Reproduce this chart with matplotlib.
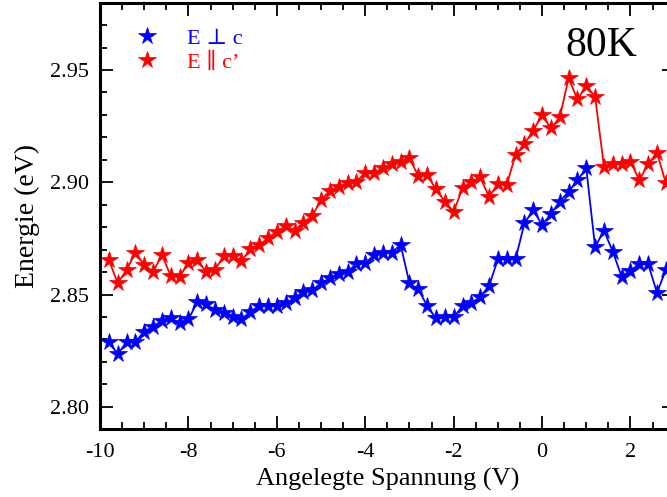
import matplotlib
matplotlib.use('Agg')
import matplotlib.pyplot as plt
import numpy as np
from matplotlib.ticker import MultipleLocator

plt.rcParams['font.family'] = ['Liberation Serif', 'DejaVu Serif']
plt.rcParams['mathtext.fontset'] = 'stix'

# applied voltage (V), one point every 0.2 V
voltage = np.round(np.arange(-9.8, 2.81, 0.2), 1)

# E perpendicular c (blue)
e_perp = [2.829, 2.8234, 2.829, 2.829, 2.8335, 2.8357, 2.8384, 2.8394, 2.8372, 2.839,
          2.8466, 2.8457, 2.8431, 2.842, 2.8402, 2.839, 2.8424, 2.8449, 2.8449, 2.8449,
          2.8461, 2.8484, 2.8513, 2.852, 2.855, 2.8573, 2.8592, 2.8602, 2.8636, 2.864,
          2.8676, 2.8684, 2.8687, 2.8721, 2.855, 2.8524, 2.8449, 2.8394, 2.8399, 2.8399,
          2.8449, 2.8461, 2.849, 2.8538, 2.8657, 2.8657, 2.8657, 2.8817, 2.8877, 2.881,
          2.8859, 2.8914, 2.8958, 2.901, 2.9062, 2.8711, 2.8785, 2.8691, 2.858, 2.8607,
          2.8636, 2.8636, 2.8508, 2.861]

# E parallel c' (red)
e_par = [2.8654, 2.855, 2.861, 2.8687, 2.8632, 2.8602, 2.8676, 2.8583, 2.858, 2.8642,
         2.8654, 2.8602, 2.861, 2.8672, 2.8672, 2.8651, 2.8702, 2.8721, 2.8751, 2.878,
         2.8805, 2.8785, 2.882, 2.885, 2.8921, 2.8963, 2.8978, 2.8996, 2.9003, 2.9043,
         2.9043, 2.9062, 2.9081, 2.9092, 2.9107, 2.9028, 2.9032, 2.8969, 2.8914, 2.8869,
         2.8973, 2.9003, 2.9022, 2.8936, 2.8993, 2.8988, 2.9122, 2.917, 2.923, 2.93,
         2.924, 2.9289, 2.9463, 2.937, 2.9429, 2.9381, 2.9069, 2.9081, 2.9081, 2.9092,
         2.901, 2.9081, 2.9132, 2.8996]

fig = plt.figure(figsize=(6.67, 4.97), dpi=100)
# the right edge of the frame runs off the picture, as in the original
ax = fig.add_axes([0.15, 0.1362, 0.8615, 0.8586])

ax.plot(voltage, e_perp, color='blue', lw=1.3, marker='*', ms=13,
        markeredgewidth=0.5, label='E \u22a5 c')
ax.plot(voltage, e_par, color='red', lw=1.3, marker='*', ms=13,
        markeredgewidth=0.5, label='E \u2225 c\u2019')

ax.set_xlim(-10, 3)
ax.set_ylim(2.79, 2.98)
ax.xaxis.set_major_locator(MultipleLocator(2))
ax.xaxis.set_minor_locator(MultipleLocator(0.5))
ax.yaxis.set_major_locator(MultipleLocator(0.05))
ax.yaxis.set_minor_locator(MultipleLocator(0.01))
ax.yaxis.set_major_formatter(matplotlib.ticker.FormatStrFormatter('%.2f'))
ax.xaxis.set_major_formatter(matplotlib.ticker.FuncFormatter(
    lambda v, p: '%d' % v))

for spine in ax.spines.values():
    spine.set_linewidth(2.2)
ax.tick_params(which='both', direction='in', top=True, right=True, labelsize=16)
ax.tick_params(which='major', length=9.5, width=1.3, pad=8)
ax.tick_params(axis='x', which='major', pad=10)
ax.tick_params(which='minor', length=5, width=1.3)

ax.set_xlabel('Angelegte Spannung (V)', fontsize=19, labelpad=4)
ax.set_ylabel('Energie (eV)', fontsize=20)
ax.yaxis.set_label_coords(-0.104, 0.5)

leg = ax.legend(loc='upper left', bbox_to_anchor=(0.027, 0.986), frameon=False,
                numpoints=1, handlelength=1.0, handletextpad=1.3,
                labelspacing=0.15, fontsize=16, labelcolor='linecolor')
for h in leg.legend_handles:
    h.set_linestyle('none')

ax.text(0.872, 0.90, '80K', transform=ax.transAxes, fontsize=30,
        ha='center', va='center')

plt.savefig('out.png', dpi=100)
